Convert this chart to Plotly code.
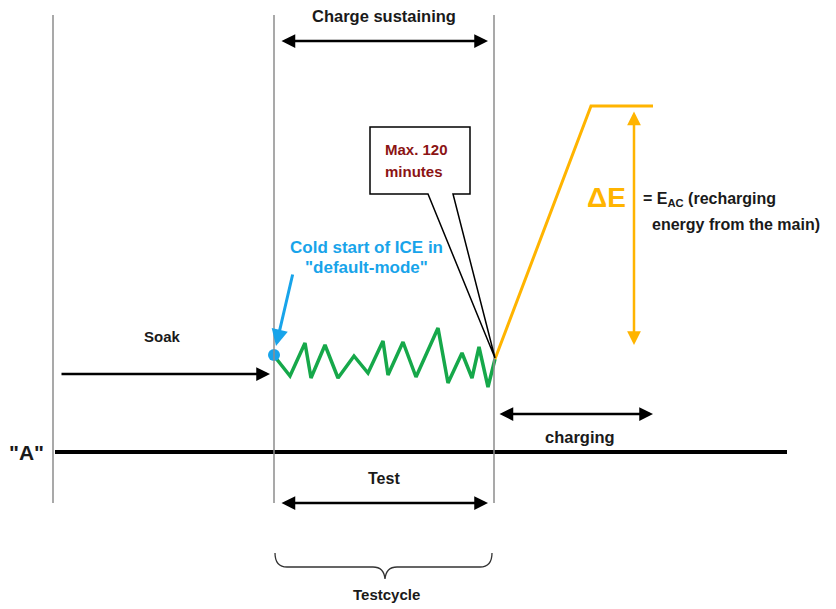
import plotly.graph_objects as go

W, H = 836, 609
OFF = 8  # page body margin compensation
FONT = "Arial, Liberation Sans, sans-serif"

# --- data (diagram units) ---
zig_x = [275, 290, 305, 311, 325, 338, 354, 368, 383, 388, 403, 416, 438, 448, 462, 472, 479, 488, 495]
zig_y = [357, 376, 343, 378, 345, 378, 356, 373, 341, 375, 342, 377, 328, 383, 353, 378, 347, 387, 359]
charge_x = [495, 591, 653]
charge_y = [359, 106, 106]
phase_x = [53, 274, 494]          # soak start, test start, test end
phase_top, phase_bottom = 15, 503
level_A_y = 452
level_A_x = [55, 787]

fig = go.Figure()

# vertical phase lines
for xv in phase_x:
    fig.add_shape(type="line", x0=xv, x1=xv, y0=phase_top, y1=phase_bottom,
                  line=dict(color="#8c8c8c", width=1.5))

# level "A"
fig.add_trace(go.Scatter(x=level_A_x, y=[level_A_y, level_A_y], mode="lines",
                         line=dict(color="black", width=4), hoverinfo="skip"))

# green zigzag
fig.add_trace(go.Scatter(x=zig_x, y=zig_y, mode="lines",
                         line=dict(color="#16A84A", width=3.5), hoverinfo="skip"))
# orange charging curve
fig.add_trace(go.Scatter(x=charge_x, y=charge_y, mode="lines",
                         line=dict(color="#FFB400", width=3), hoverinfo="skip"))

# callout box
fig.add_shape(type="path",
              path="M 370,127 L 470,127 L 470,194 L 453,194 L 495,358 L 428,194 L 370,194 Z",
              line=dict(color="black", width=1.5), fillcolor="white", layer="above")

# blue dot
fig.add_trace(go.Scatter(x=[274], y=[355], mode="markers",
                         marker=dict(color="#18A4EA", size=12), hoverinfo="skip"))

# brace
fig.add_shape(type="path",
              path="M 275,553 Q 275,567 287,567 L 373,567 Q 384,567 385,579 "
                   "Q 386,567 397,567 L 480,567 Q 492,567 492,553",
              line=dict(color="#333333", width=1.3))


def arrow(x0, y0, x1, y1, color="black", both=False, width=2.5):
    fig.add_annotation(x=x1, y=y1, ax=x0, ay=y0, xref="x", yref="y", axref="x", ayref="y",
                       text="", showarrow=True, arrowhead=2, arrowsize=1.1,
                       arrowwidth=width, arrowcolor=color,
                       arrowside="end+start" if both else "end")


arrow(280, 41, 488, 41, both=True)          # charge sustaining
arrow(60, 374, 270, 374)                    # soak
arrow(498, 414, 653, 414, both=True)        # charging
arrow(280, 503, 488, 503, both=True)        # test
arrow(634, 110, 634, 345, color="#FFB400", both=True)   # delta E
arrow(293, 273, 276, 346, color="#18A4EA", width=3)      # cold start pointer


def label(x, y, text, size=14, color="#1a1a1a", xanchor="center"):
    fig.add_annotation(x=x, y=y, xref="x", yref="y", text=text, showarrow=False,
                       xanchor=xanchor, yanchor="middle", borderpad=0,
                       font=dict(family=FONT, size=size, color=color))


label(384, 16, "<b>Charge sustaining</b>", 16.5)
label(162, 336, "<b>Soak</b>", 15)
label(580, 437, "<b>charging</b>", 16.5)
label(384, 478, "<b>Test</b>", 16)
label(386, 594, "<b>Testcycle</b>", 15)
label(26, 452, "<b>\"A\"</b>", 21)
label(366, 247, "<b>Cold start of ICE in</b>", 17, "#18A4EA")
label(366, 267, "<b>\"default-mode\"</b>", 17, "#18A4EA")
label(384, 149, "<b>Max. 120</b>", 15, "#8B1414", "left")
label(384, 171, "<b>minutes</b>", 15, "#8B1414", "left")
label(606, 197, "<b>ΔE</b>", 28, "#FFB400")
label(642, 199, "<b>= E<sub>AC</sub> (recharging</b>", 16, "#1a1a1a", "left")
label(651, 224, "<b>energy from the main)</b>", 16, "#1a1a1a", "left")

fig.update_layout(
    width=W, height=H, margin=dict(l=0, r=0, t=0, b=0),
    paper_bgcolor="white", plot_bgcolor="white", showlegend=False,
    xaxis=dict(range=[OFF, W + OFF], visible=False, fixedrange=True),
    yaxis=dict(range=[H + OFF, OFF], visible=False, fixedrange=True),
)

fig.write_html("out.html")
